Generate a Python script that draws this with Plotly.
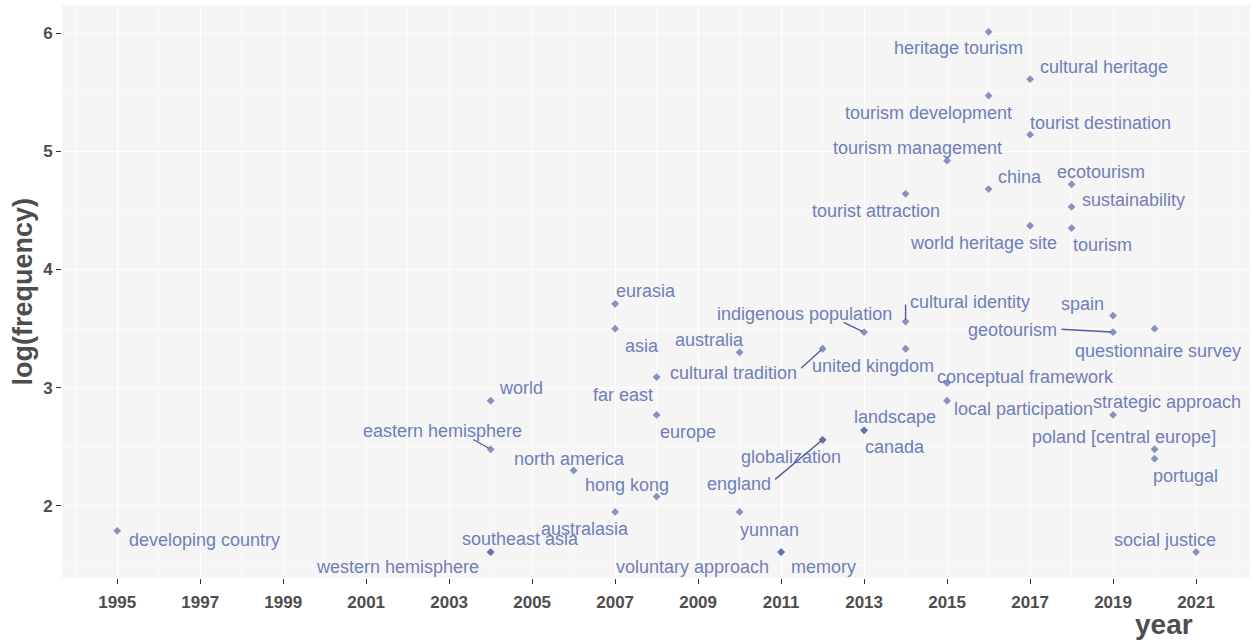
import plotly.graph_objects as go

# ---- data ----
terms = [
    "heritage tourism", "cultural heritage", "tourism development", "tourist destination",
    "tourism management", "china", "ecotourism", "tourist attraction", "sustainability",
    "world heritage site", "tourism", "eurasia", "asia", "australia", "far east",
    "cultural tradition", "indigenous population", "cultural identity", "united kingdom",
    "spain", "geotourism", "questionnaire survey", "conceptual framework",
    "local participation", "strategic approach", "europe", "landscape", "canada",
    "globalization", "england", "poland [central europe]", "portugal", "world",
    "eastern hemisphere", "north america", "hong kong", "australasia", "yunnan",
    "developing country", "southeast asia", "western hemisphere", "voluntary approach",
    "memory", "social justice",
]
years = [
    2016, 2017, 2016, 2017,
    2015, 2016, 2018, 2014, 2018,
    2017, 2018, 2007, 2007, 2010, 2008,
    2012, 2013, 2014, 2014,
    2019, 2019, 2020, 2015,
    2015, 2019, 2008, 2013, 2013,
    2012, 2012, 2020, 2020, 2004,
    2004, 2006, 2008, 2007, 2010,
    1995, 2004, 2004, 2011,
    2011, 2021,
]
log_freq = [
    6.01, 5.61, 5.47, 5.14,
    4.92, 4.68, 4.72, 4.64, 4.53,
    4.37, 4.35, 3.71, 3.50, 3.30, 3.09,
    3.33, 3.47, 3.56, 3.33,
    3.61, 3.47, 3.50, 3.04,
    2.89, 2.77, 2.77, 2.64, 2.64,
    2.56, 2.56, 2.48, 2.40, 2.89,
    2.48, 2.30, 2.08, 1.95, 1.95,
    1.79, 1.61, 1.61, 1.61,
    1.61, 1.61,
]
x_ticks = list(range(1995, 2022, 2))
y_ticks = [2, 3, 4, 5, 6]

# ---- label placement (pixel offsets of label centre from its point; repel-style) ----
label_offsets = {
    "heritage tourism": (-30, 16), "cultural heritage": (74, -12),
    "tourism development": (-60, 17), "tourist destination": (70, -12),
    "tourism management": (-30, -13), "china": (31, -12), "ecotourism": (29, -12),
    "tourist attraction": (-30, 17), "sustainability": (62, -7),
    "world heritage site": (-47, 17), "tourism": (31, 17), "eurasia": (31, -13),
    "asia": (27, 17), "australia": (-30, -12), "far east": (-34, 18),
    "cultural tradition": (-89, 24), "indigenous population": (-60, -18),
    "cultural identity": (64, -20), "united kingdom": (-33, 17), "spain": (-31, -12),
    "geotourism": (-101, -2), "questionnaire survey": (3, 22),
    "conceptual framework": (78, -6), "local participation": (76, 8),
    "strategic approach": (54, -13), "europe": (31, 17), "landscape": (31, -13),
    "canada": (31, 17), "globalization": (-32, 17), "england": (-84, 44),
    "poland [central europe]": (-31, -12), "portugal": (31, 17), "world": (30, -13),
    "eastern hemisphere": (-48, -18), "north america": (-4, -12),
    "hong kong": (-30, -12), "australasia": (-30, 17), "yunnan": (30, 18),
    "developing country": (87, 9), "southeast asia": (30, -13),
    "western hemisphere": (-93, 15), "voluntary approach": (-89, 15),
    "memory": (42, 15), "social justice": (-31, -12),
}
# repel segment end (pixel offset from the point)
segment_ends = {
    "cultural tradition": (-22, 20), "indigenous population": (-21, -10),
    "cultural identity": (0, -18), "geotourism": (-52, -3),
    "england": (-48, 40), "eastern hemisphere": (-18, -10),
}

TEXT_COLOR = "#6f7eb9"
POINT_COLOR = "#5666a6"
SEG_COLOR = "#4e5d9c"
FONT = "Liberation Sans, Arial, sans-serif"

fig = go.Figure()
fig.add_trace(go.Scatter(
    x=years, y=log_freq, mode="markers",
    marker=dict(symbol="diamond", size=6, color=POINT_COLOR, opacity=0.7,
                line=dict(width=0)),
    hovertext=terms, hoverinfo="text", showlegend=False,
))

annotations = []
for t, xv, yv in zip(terms, years, log_freq):
    if t in segment_ends:
        sx, sy = segment_ends[t]
        annotations.append(dict(
            x=xv, y=yv, xref="x", yref="y", text=" ",
            showarrow=True, ax=sx, ay=sy, axref="pixel", ayref="pixel",
            arrowhead=0, arrowwidth=1.4, arrowcolor=SEG_COLOR,
            standoff=2, startstandoff=0, font=dict(size=1), borderpad=0,
        ))
    dx, dy = label_offsets[t]
    annotations.append(dict(
        x=xv, y=yv, xref="x", yref="y", text=t,
        showarrow=False, xshift=dx, yshift=-dy, xanchor="center", yanchor="middle",
        font=dict(family=FONT, size=18, color=TEXT_COLOR),
        borderpad=0,
    ))

annotations.append(dict(
    text="<b>log(frequency)</b>", xref="paper", yref="paper", x=0, y=0.5,
    xshift=-40, xanchor="center", yanchor="middle", textangle=-90, showarrow=False,
    font=dict(family=FONT, size=27, color="#4d4d4d"),
))
annotations.append(dict(
    text="<b>year</b>", xref="paper", yref="paper", x=1, y=0,
    xshift=-86, yshift=-46, xanchor="center", yanchor="middle", showarrow=False,
    font=dict(family=FONT, size=28, color="#4d4d4d"),
))

fig.update_layout(
    width=1253, height=642,
    margin=dict(l=62, r=3, t=5, b=64),
    paper_bgcolor="white", plot_bgcolor="#f5f5f5",
    annotations=annotations,
    font=dict(family=FONT),
)
fig.update_xaxes(
    range=[1993.67, 2022.3], tickvals=x_ticks, ticktext=[f"<b>{v}</b>" for v in x_ticks],
    showgrid=True, gridcolor="white", gridwidth=1.3,
    minor=dict(dtick=1, tick0=1994, showgrid=True, gridcolor="#fbfbfb", gridwidth=0.7,
               ticklen=0),
    ticks="outside", ticklen=5, tickcolor="#333333", tickwidth=1.2,
    tickfont=dict(family=FONT, size=17, color="#4d4d4d"),
    ticklabelstandoff=4,
    zeroline=False, showline=False, automargin=False,
)
fig.update_yaxes(
    range=[1.391, 6.237], tickvals=y_ticks, ticktext=[f"<b>{v}</b>" for v in y_ticks],
    showgrid=True, gridcolor="white", gridwidth=1.3,
    minor=dict(dtick=0.5, tick0=1.5, showgrid=True, gridcolor="#fbfbfb", gridwidth=0.7,
               ticklen=0),
    ticks="outside", ticklen=5, tickcolor="#333333", tickwidth=1.2,
    tickfont=dict(family=FONT, size=17, color="#4d4d4d"),
    zeroline=False, showline=False, automargin=False,
)

fig.write_html("out.html", config={"displayModeBar": False},
               post_script="document.body.style.margin='0';")
